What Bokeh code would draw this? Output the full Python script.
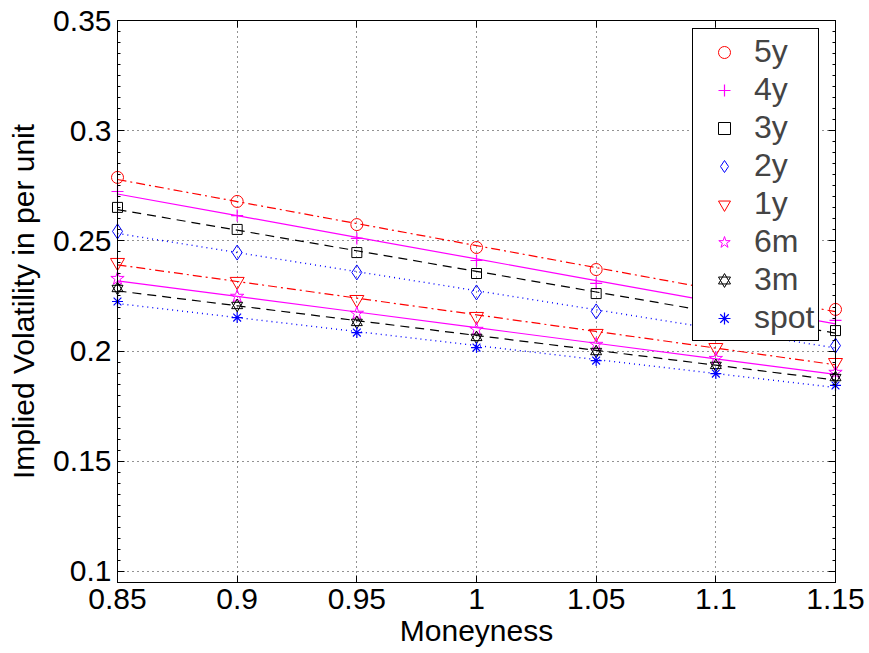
import numpy as np
from bokeh.plotting import figure
from bokeh.models import Legend, LegendItem, LinearAxis, FixedTicker, Range1d
from bokeh.embed import file_html
from bokeh.resources import INLINE

moneyness = [0.85, 0.90, 0.95, 1.00, 1.05, 1.10, 1.15]

vol_5y = [0.2788, 0.2679, 0.2574, 0.2470, 0.2370, 0.2280, 0.2189]
vol_4y = [0.2724, 0.2615, 0.2511, 0.2411, 0.2307, 0.2220, 0.2139]
vol_3y = [0.2652, 0.2552, 0.2447, 0.2352, 0.2261, 0.2175, 0.2093]
vol_2y = [0.2543, 0.2447, 0.2357, 0.2266, 0.2180, 0.2100, 0.2025]
vol_1y = [0.2402, 0.2316, 0.2234, 0.2157, 0.2080, 0.2016, 0.1948]
vol_6m = [0.2329, 0.2248, 0.2171, 0.2098, 0.2030, 0.1966, 0.1903]
vol_3m = [0.2284, 0.2207, 0.2130, 0.2062, 0.1998, 0.1935, 0.1880]
vol_spot = [0.2225, 0.2152, 0.2084, 0.2016, 0.1957, 0.1898, 0.1844]

labels = ["5y", "4y", "3y", "2y", "1y", "6m", "3m", "spot"]
x_ticks = [0.85, 0.9, 0.95, 1.0, 1.05, 1.1, 1.15]
y_ticks = [0.1, 0.15, 0.2, 0.25, 0.3, 0.35]

FONT = "Liberation Sans"
FS = "30px"

p = figure(width=869, height=653, output_backend="svg", toolbar_location=None,
           x_range=Range1d(0.85, 1.15), y_range=Range1d(0.095, 0.35),
           min_border_left=117, min_border_right=34, min_border_top=20, min_border_bottom=71,
           x_axis_label="Moneyness", y_axis_label="Implied Volatility in per unit")
p.outline_line_color = "black"
p.outline_line_width = 1
p.background_fill_color = "white"
p.border_fill_color = "white"

for ax in (p.xaxis[0], p.yaxis[0]):
    ax.major_label_text_font = FONT
    ax.major_label_text_font_size = FS
    ax.axis_label_text_font = FONT
    ax.axis_label_text_font_size = FS
    ax.axis_label_text_font_style = "normal"
    ax.major_tick_in = 7
    ax.major_tick_out = 0
    ax.axis_line_color = "black"
    ax.major_tick_line_color = "black"
    ax.major_label_text_color = "black"
    ax.axis_label_text_color = "black"

p.xaxis[0].ticker = FixedTicker(ticks=x_ticks)
p.xaxis[0].minor_tick_line_color = None
p.xaxis[0].major_label_standoff = 6
p.xaxis[0].axis_label_standoff = 2
p.xaxis[0].major_label_overrides = {0.85: "0.85", 0.9: "0.9", 0.95: "0.95", 1.0: "1", 1.05: "1.05", 1.1: "1.1", 1.15: "1.15"}

y_minor = [round(0.095 + 0.005 * i, 3) for i in range(52)]
p.yaxis[0].ticker = FixedTicker(ticks=y_ticks, minor_ticks=y_minor)
p.yaxis[0].minor_tick_in = 3
p.yaxis[0].minor_tick_out = 0
p.yaxis[0].minor_tick_line_color = "black"
p.yaxis[0].major_label_standoff = 6
p.yaxis[0].axis_label_standoff = 10
p.yaxis[0].major_label_overrides = {0.1: "0.1", 0.15: "0.15", 0.2: "0.2", 0.25: "0.25", 0.3: "0.3", 0.35: "0.35"}

top_ax = LinearAxis(ticker=FixedTicker(ticks=x_ticks), major_label_text_font_size="1px",
                    major_label_text_color=None,
                    major_tick_in=7, major_tick_out=0, minor_tick_line_color=None,
                    axis_line_color="black", major_label_standoff=0)
right_ax = LinearAxis(ticker=FixedTicker(ticks=y_ticks, minor_ticks=y_minor), major_label_text_font_size="1px",
                      major_label_text_color=None,
                      major_tick_in=7, major_tick_out=0, minor_tick_in=3, minor_tick_out=0,
                      minor_tick_line_color="black", axis_line_color="black", major_label_standoff=0)
p.add_layout(top_ax, "above")
p.add_layout(right_ax, "right")

p.xgrid.ticker = FixedTicker(ticks=x_ticks)
p.ygrid.ticker = FixedTicker(ticks=y_ticks)
for g in (p.xgrid[0], p.ygrid[0]):
    g.grid_line_color = "black"
    g.grid_line_alpha = 0.85
    g.grid_line_dash = "1 4"
    g.grid_line_width = 1

series = [vol_5y, vol_4y, vol_3y, vol_2y, vol_1y, vol_6m, vol_3m, vol_spot]
colors = ["#FF0000", "#FF00FF", "#000000", "#0000FF", "#FF0000", "#FF00FF", "#000000", "#0000FF"]
dashes = ["9 4 2 4", "solid", "9 6", "1 4", "9 4 2 4", "solid", "9 6", "1 4"]

xs = np.array(moneyness)
# fitted straight lines through each series
for ys, c, d in zip(series, colors, dashes):
    coef = np.polyfit(xs, np.array(ys), 1)
    fit = np.polyval(coef, xs)
    p.line(xs, fit, line_color=c, line_dash=d, line_width=1.2 if d != "1 4" else 1.4)

LVL = "guide"
items = []
r = p.scatter(moneyness, vol_5y, marker="circle", size=12, line_color="#FF0000", fill_color=None, line_width=1, level=LVL)
items.append(LegendItem(label="5y", renderers=[r]))
r = p.scatter(moneyness, vol_4y, marker="cross", size=12, line_color="#FF00FF", fill_color=None, line_width=1.2, level=LVL)
items.append(LegendItem(label="4y", renderers=[r]))
r = p.scatter(moneyness, vol_3y, marker="square", size=10, line_color="#000000", fill_color=None, line_width=1, level=LVL)
items.append(LegendItem(label="3y", renderers=[r]))
r = p.scatter(moneyness, vol_2y, marker="diamond", size=15, line_color="#0000FF", fill_color=None, line_width=1, level=LVL)
items.append(LegendItem(label="2y", renderers=[r]))
r = p.scatter(moneyness, vol_1y, marker="inverted_triangle", size=14, line_color="#FF0000", fill_color=None, line_width=1, level=LVL)
items.append(LegendItem(label="1y", renderers=[r]))
r = p.scatter(moneyness, vol_6m, marker="star", size=14, line_color="#FF00FF", fill_color=None, line_width=1, level=LVL)
items.append(LegendItem(label="6m", renderers=[r]))
r1 = p.scatter(moneyness, vol_3m, marker="triangle", size=11, line_color="#000000", fill_color=None, line_width=1, level=LVL)
r2 = p.scatter(moneyness, vol_3m, marker="inverted_triangle", size=11, line_color="#000000", fill_color=None, line_width=1, level=LVL)
items.append(LegendItem(label="3m", renderers=[r1, r2]))
r = p.scatter(moneyness, vol_spot, marker="asterisk", size=11, line_color="#0000FF", fill_color=None, line_width=1.2, level=LVL)
items.append(LegendItem(label="spot", renderers=[r]))

legend = Legend(items=items, location=(575, 241), margin=0, padding=4, spacing=1,
                label_text_font=FONT, label_text_font_size="32px", label_height=30,
                glyph_height=30, glyph_width=54, label_standoff=3,
                border_line_color="black", border_line_width=1.5, border_line_alpha=1.0,
                background_fill_color="white", background_fill_alpha=1.0)
p.add_layout(legend, "center")

open("out.html", "w").write(file_html(p, INLINE))
